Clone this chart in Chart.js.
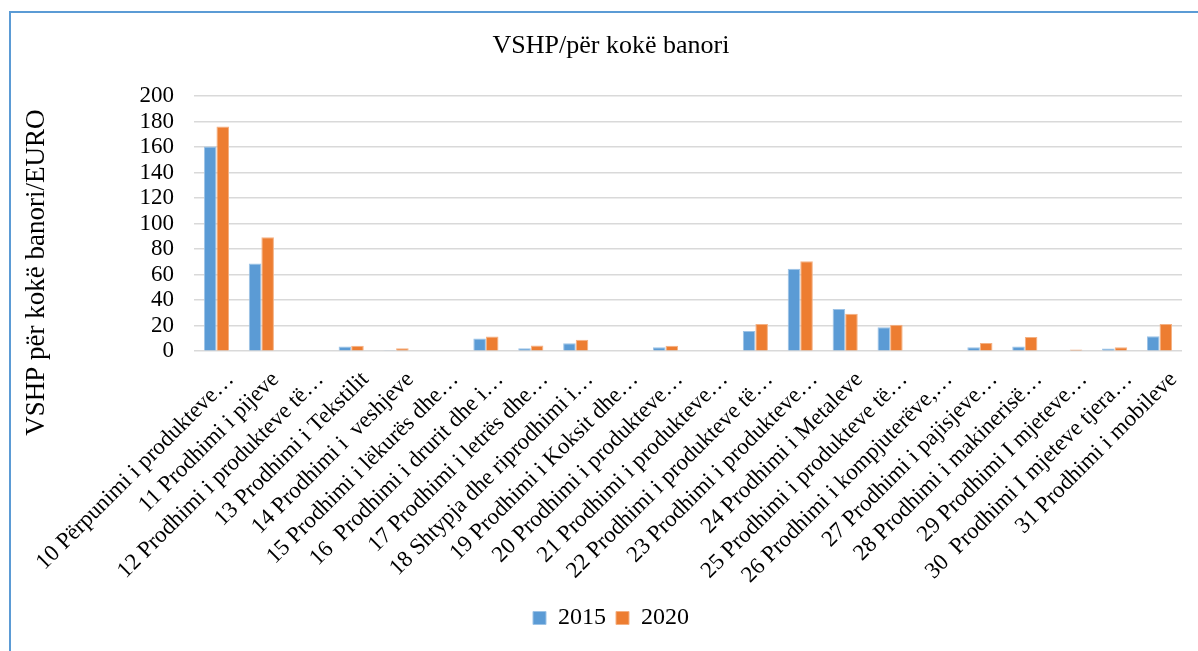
<!DOCTYPE html>
<html lang="sq">
<head>
<meta charset="UTF-8">
<title>VSHP/për kokë banori</title>
<script src="https://cdn.jsdelivr.net/npm/chart.js"></script>
<style>
    html, body { margin: 0; padding: 0; background: #fff; overflow: hidden; }
    .frame {
        position: absolute;
        left: 9px;
        top: 11px;
        width: 1200px;
        height: 660px;
        border: 2px solid #5B9BD5;
        background: #fff;
    }
    canvas { display: block; }
</style>
</head>
<body>
<div class="frame">
    <canvas id="vshpChart" width="1200" height="660"></canvas>
</div>
<script>
const categories = [
    '10 Përpunimi i produkteve…',
    '11 Prodhimi i pijeve',
    '12 Prodhimi i produkteve të…',
    '13 Prodhimi i Tekstilit',
    '14 Prodhimi i  veshjeve',
    '15 Prodhimi i lëkurës dhe…',
    '16  Prodhimi i drurit dhe i…',
    '17 Prodhimi i letrës dhe…',
    '18 Shtypja dhe riprodhimi i…',
    '19 Prodhimi i Koksit dhe…',
    '20 Prodhimi i produkteve…',
    '21 Prodhimi i produkteve…',
    '22 Prodhimi i produkteve të…',
    '23 Prodhimi i produkteve…',
    '24 Prodhimi i Metaleve',
    '25 Prodhimi i produkteve të…',
    '26 Prodhimi i kompjuterëve,…',
    '27 Prodhimi i pajisjeve…',
    '28 Prodhimi i makinerisë…',
    '29 Prodhimi I mjeteve…',
    '30  Prodhimi I mjeteve tjera…',
    '31 Prodhimi i mobileve'
];
const values2015 = [160.5, 68.8, 0, 3.7, 0.8, 0.5, 9.9, 2.4, 6.3, 0, 3.1, 0, 15.9, 64.6, 33.2, 18.8, 0, 3.1, 3.7, 0.5, 2.1, 11.8];
const values2020 = [176.2, 89.4, 0, 4.2, 2.4, 0.5, 11.5, 4.4, 8.9, 0, 4.2, 0.5, 21.4, 70.6, 29.3, 20.7, 0, 6.5, 11.2, 1.3, 3.1, 21.4];
const yTicks = [0, 20, 40, 60, 80, 100, 120, 140, 160, 180, 200];

const serif = "'Liberation Serif', 'Times New Roman', serif";

// y-axis title drawn by hand so it can sit lower than the plot centre (as in the original)
const yTitlePlugin = {
    id: 'yTitle',
    afterDraw(chart) {
        const ctx = chart.ctx;
        const area = chart.chartArea;
        ctx.save();
        ctx.translate(26, (area.top + area.bottom) / 2 + 49);
        ctx.rotate(-Math.PI / 2);
        ctx.font = '27px ' + serif;
        ctx.fillStyle = '#000';
        ctx.textAlign = 'center';
        ctx.textBaseline = 'middle';
        ctx.fillText('VSHP për kokë banori/EURO', 0, 0);
        ctx.restore();
    }
};

const ctx = document.getElementById('vshpChart').getContext('2d');
new Chart(ctx, {
    type: 'bar',
    data: {
        labels: categories,
        datasets: [
            {
                label: '2015',
                data: values2015,
                backgroundColor: '#5B9BD5',
                borderColor: '#9DC3E6',
                borderWidth: 1
            },
            {
                label: '2020',
                data: values2020,
                backgroundColor: '#ED7D31',
                borderColor: '#F4B183',
                borderWidth: 1
            }
        ]
    },
    plugins: [yTitlePlugin],
    options: {
        responsive: false,
        animation: false,
        layout: {
            padding: { left: 0, right: 0, top: 0, bottom: 33 }
        },
        datasets: {
            bar: { categoryPercentage: 0.56, barPercentage: 1 }
        },
        plugins: {
            title: {
                display: true,
                text: 'VSHP/për kokë banori',
                color: '#000',
                font: { family: serif, size: 26, weight: 'normal' },
                padding: { top: 18, bottom: 34 }
            },
            legend: {
                position: 'bottom',
                labels: {
                    color: '#000',
                    font: { family: serif, size: 24 },
                    boxWidth: 13,
                    boxHeight: 13,
                    padding: 10
                }
            },
            tooltip: { enabled: false }
        },
        scales: {
            x: {
                grid: { display: false },
                border: { display: false },
                ticks: {
                    color: '#000',
                    font: { family: serif, size: 23 },
                    autoSkip: false,
                    minRotation: 45,
                    maxRotation: 45,
                    labelOffset: 14,
                    padding: 7
                }
            },
            y: {
                min: 0,
                max: 200,
                afterBuildTicks(scale) {
                    scale.ticks = yTicks.map(v => ({ value: v }));
                },
                afterFit(scale) {
                    scale.width = 183;
                },
                grid: {
                    color: '#D9D9D9',
                    lineWidth: 1.5,
                    drawTicks: false
                },
                border: { display: false },
                ticks: {
                    color: '#000',
                    font: { family: serif, size: 23 },
                    autoSkip: false,
                    padding: 20
                }
            },
            // empty right-hand axis that only keeps the plot clear of the right edge
            yRight: {
                position: 'right',
                grid: { display: false },
                border: { display: false },
                ticks: { display: false },
                afterFit(scale) {
                    scale.width = 29;
                }
            }
        }
    }
});
</script>
</body>
</html>
